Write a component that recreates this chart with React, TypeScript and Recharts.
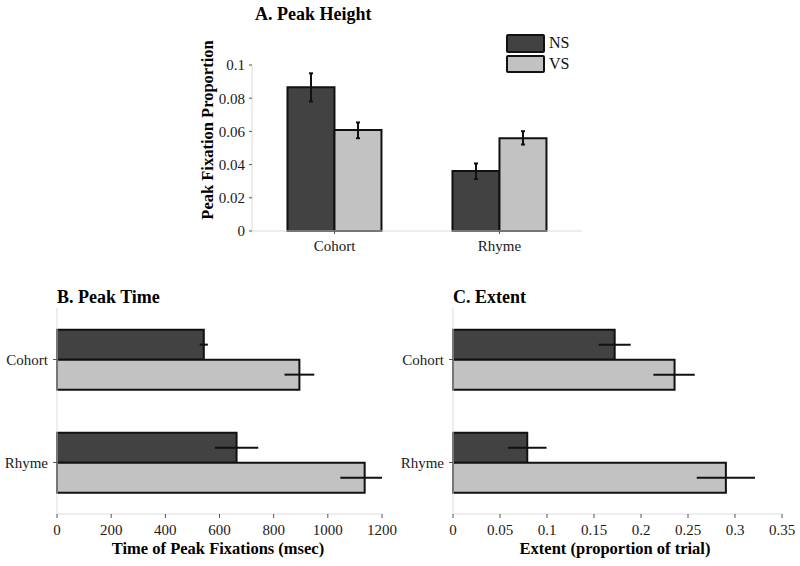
import React from 'react';
import { BarChart, Bar, XAxis, YAxis, ErrorBar, Legend } from 'recharts';

// ── Peak height / peak time / extent for NS vs VS, by competitor type

const CATEGORIES = ['Cohort', 'Rhyme'];

const HEIGHT_NS = [0.0866, 0.0362];
const HEIGHT_VS = [0.0608, 0.0559];
const HEIGHT_NS_ERR = [[0.0086, 0.0084], [0.0049, 0.0045]];
const HEIGHT_VS_ERR = [[0.0049, 0.0046], [0.0038, 0.0042]];
const HEIGHT_TICKS = [0, 0.02, 0.04, 0.06, 0.08, 0.1];

const TIME_NS = [542, 663];
const TIME_VS = [895, 1136];
const TIME_NS_ERR = [[15, 15], [80, 80]];
const TIME_VS_ERR = [[55, 55], [90, 64]];
const TIME_TICKS = [0, 200, 400, 600, 800, 1000, 1200];

const EXTENT_NS = [0.172, 0.079];
const EXTENT_VS = [0.2357, 0.2903];
const EXTENT_NS_ERR = [[0.017, 0.017], [0.0205, 0.0205]];
const EXTENT_VS_ERR = [[0.0225, 0.0215], [0.031, 0.031]];
const EXTENT_TICKS = [0, 0.05, 0.1, 0.15, 0.2, 0.25, 0.3, 0.35];

const SERIES = [
  { key: 'ns', name: 'NS', color: '#424242' },
  { key: 'vs', name: 'VS', color: '#c2c2c2' },
];

const build = (ns: number[], vs: number[], nsErr: number[][], vsErr: number[][]) =>
  CATEGORIES.map((name, i) => ({ name, ns: ns[i], vs: vs[i], nsErr: nsErr[i], vsErr: vsErr[i] }));

const heightData = build(HEIGHT_NS, HEIGHT_VS, HEIGHT_NS_ERR, HEIGHT_VS_ERR);
const timeData = build(TIME_NS, TIME_VS, TIME_NS_ERR, TIME_VS_ERR);
const extentData = build(EXTENT_NS, EXTENT_VS, EXTENT_NS_ERR, EXTENT_VS_ERR);

const FONT = '"Liberation Serif", "DejaVu Serif", serif';
const tick = { fontSize: 15, fill: '#1a1a1a', fontFamily: FONT };
const axisLine = { stroke: '#dcdcdc', strokeWidth: 1 };
const tickLine = { stroke: '#555', strokeWidth: 1 };

const title = (text: string, left: number, top: number) => (
  <div style={{ position: 'absolute', left, top, fontFamily: FONT, fontWeight: 700, fontSize: 18, lineHeight: '20px', whiteSpace: 'nowrap' }}>
    {text}
  </div>
);

const axisTitle = (text: string, cx: number, top: number) => (
  <div style={{ position: 'absolute', left: cx - 200, width: 400, top, textAlign: 'center', fontFamily: FONT, fontWeight: 700, fontSize: 16.5, lineHeight: '16px' }}>
    {text}
  </div>
);

const LegendBox = () => (
  <div style={{ fontFamily: FONT }}>
    {SERIES.map(s => (
      <div key={s.key} style={{ display: 'flex', alignItems: 'center', height: 20.5 }}>
        <div style={{ width: 35, height: 14.5, background: s.color, border: '2px solid #111', borderRadius: 2 }} />
        <span style={{ fontSize: 16, marginLeft: 4, color: '#111' }}>{s.name}</span>
      </div>
    ))}
  </div>
);

function HorizontalPanel({ data, ticks, domain, yWidth }: any) {
  return (
    <BarChart width={400} height={296} data={data} layout="vertical" barCategoryGap="21%" barGap={0}
      margin={{ top: 38, right: 18, left: 0, bottom: 22 }}>
      <XAxis type="number" domain={domain} ticks={ticks} interval={0} tick={tick} axisLine={axisLine} tickLine={tickLine} tickSize={4} tickMargin={6} height={30} />
      <YAxis type="category" dataKey="name" width={yWidth} tick={tick} axisLine={axisLine} tickLine={tickLine} tickSize={4} tickMargin={5} />
      {SERIES.map(s => (
        <Bar key={s.key} dataKey={s.key} fill={s.color} stroke="#111" strokeWidth={2} isAnimationActive={false}>
          <ErrorBar dataKey={s.key + 'Err'} direction="x" width={0} stroke="#111" strokeWidth={2} />
        </Bar>
      ))}
    </BarChart>
  );
}

export default function App() {
  return (
    <div style={{ position: 'absolute', left: 0, top: 0, width: 800, height: 566, background: '#fff', fontFamily: FONT }}>
      {/* A. Peak Height */}
      <div style={{ position: 'absolute', left: 0, top: 0 }}>
        <BarChart width={800} height={270} data={heightData} barCategoryGap="21.5%" barGap={0}
          margin={{ top: 24, right: 218, left: 192, bottom: 9 }}>
          <XAxis dataKey="name" tick={tick} axisLine={axisLine} tickLine={tickLine} tickSize={3} tickMargin={6} height={30} />
          <YAxis domain={[0, 0.1]} ticks={HEIGHT_TICKS} interval={0} width={60} tick={tick} axisLine={axisLine} tickLine={tickLine} tickSize={3} tickMargin={4} />
          <Legend layout="vertical" align="center" verticalAlign="top" content={<LegendBox />}
            wrapperStyle={{ position: 'absolute', left: 506, top: 33, width: 80 }} />
          {SERIES.map(s => (
            <Bar key={s.key} dataKey={s.key} name={s.name} fill={s.color} stroke="#111" strokeWidth={2} isAnimationActive={false}>
              <ErrorBar dataKey={s.key + 'Err'} direction="y" width={2} stroke="#111" strokeWidth={2} />
            </Bar>
          ))}
        </BarChart>
      </div>
      {title('A. Peak Height', 255, 4)}
      <div style={{ position: 'absolute', left: 208 - 120, top: 120, width: 240, textAlign: 'center', transform: 'rotate(-90deg)', fontWeight: 700, fontSize: 16.5, lineHeight: '20px' }}>
        Peak Fixation Proportion
      </div>

      {/* B. Peak Time */}
      <div style={{ position: 'absolute', left: 0, top: 270 }}>
        <HorizontalPanel data={timeData} ticks={TIME_TICKS} domain={[0, 1200]} yWidth={57} />
      </div>
      {title('B. Peak Time', 57, 287)}
      {axisTitle('Time of Peak Fixations (msec)', 218, 541)}

      {/* C. Extent */}
      <div style={{ position: 'absolute', left: 400, top: 270 }}>
        <HorizontalPanel data={extentData} ticks={EXTENT_TICKS} domain={[0, 0.35]} yWidth={53} />
      </div>
      {title('C. Extent', 453, 287)}
      {axisTitle('Extent (proportion of trial)', 615, 541)}
    </div>
  );
}
